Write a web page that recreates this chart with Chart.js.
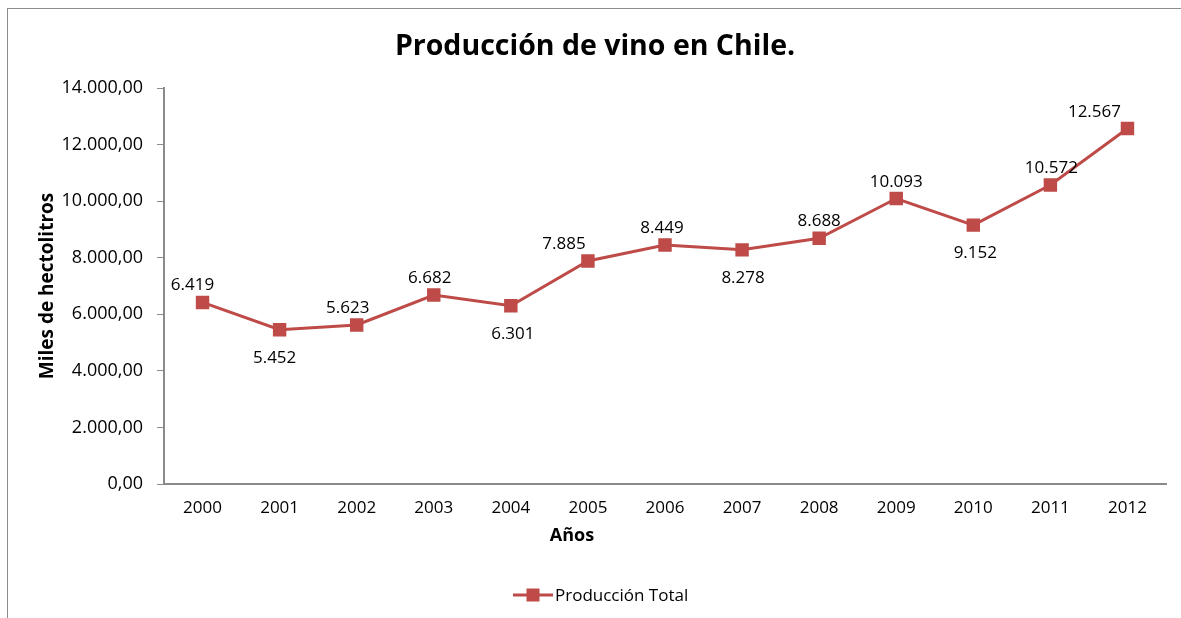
<!DOCTYPE html>
<html>
<head>
<meta charset="utf-8">
<script src="https://cdn.jsdelivr.net/npm/chart.js@4.4.1/dist/chart.umd.min.js"></script>
<style>
  html, body { margin:0; padding:0; background:#fff; overflow:hidden; }
  #wrap { position:relative; width:1181px; height:618px; }
</style>
</head>
<body>
<div id="wrap"><canvas id="vino" width="1181" height="618"></canvas></div>
<script>
const years   = ['2000','2001','2002','2003','2004','2005','2006','2007','2008','2009','2010','2011','2012'];
const produccion = [6419, 5452, 5623, 6682, 6301, 7885, 8449, 8278, 8688, 10093, 9152, 10572, 12567];
const yTicks  = [0, 2000, 4000, 6000, 8000, 10000, 12000, 14000];

// where each value label sits relative to its marker
const labelSide = ['up','down','up','up','down','up','up','down','up','up','down','up','up'];
const labelDx   = [-10, -5, -9, -4, 2, -24, -3, 1, 0, 0, 2, 1, -33];

const RED  = '#BE4B48';
const AXIS = '#8a8a8a';
const FONT = '"Open Sans", sans-serif';
const TITULO = 'Producción de vino en Chile.';
const EJE_X = 'Años';

// 12567 -> "12.567"
const miles = v => String(Math.round(v)).replace(/\B(?=(\d{3})+(?!\d))/g, '.');
const conDecimales = v => miles(v) + ',00';

const framePlugin = {
  id: 'frame',
  beforeDraw(chart) {
    const c = chart.ctx;
    c.save();
    c.strokeStyle = '#8c8c8c';
    c.lineWidth = 1;
    c.strokeRect(7.5, 8.5, 1300, 800);
    c.restore();
  }
};

// chart title and the x axis caption, placed a bit left of the plot centre
const textos = {
  id: 'textos',
  afterDraw(chart) {
    const c = chart.ctx;
    c.save();
    c.fillStyle = '#000';
    c.textAlign = 'center';
    c.textBaseline = 'middle';
    c.font = 'bold 28.5px ' + FONT;
    c.fillText(TITULO, 595, 47);
    c.font = 'bold 18px ' + FONT;
    c.fillText(EJE_X, 572, 536);
    c.restore();
  }
};

const valueLabels = {
  id: 'valueLabels',
  afterDatasetsDraw(chart) {
    const c = chart.ctx;
    const pts = chart.getDatasetMeta(0).data;
    c.save();
    c.font = '17px ' + FONT;
    c.fillStyle = '#000';
    c.textAlign = 'center';
    c.textBaseline = 'alphabetic';
    pts.forEach((p, i) => {
      const y = labelSide[i] === 'up' ? p.y - 12 : p.y + 33;
      c.fillText(miles(produccion[i]), p.x + labelDx[i], y);
    });
    c.restore();
  }
};

const legendLine = {
  id: 'legendLine',
  afterDraw(chart) {
    const c = chart.ctx;
    const cx = 533, cy = 595;
    c.save();
    c.strokeStyle = RED;
    c.lineWidth = 3;
    c.beginPath();
    c.moveTo(cx - 20, cy);
    c.lineTo(cx + 20, cy);
    c.stroke();
    c.fillStyle = RED;
    c.fillRect(cx - 6.5, cy - 6.5, 13, 13);
    c.font = '17px ' + FONT;
    c.fillStyle = '#000';
    c.textAlign = 'left';
    c.textBaseline = 'middle';
    c.fillText(chart.data.datasets[0].label, cx + 22, cy + 1);
    c.restore();
  }
};

new Chart(document.getElementById('vino'), {
  type: 'line',
  data: {
    labels: years,
    datasets: [{
      label: 'Producción Total',
      data: produccion,
      borderColor: RED,
      backgroundColor: RED,
      borderWidth: 3,
      pointStyle: 'rect',
      pointRadius: 9.5,
      pointHoverRadius: 9.5,
      pointBorderWidth: 0,
      tension: 0
    }]
  },
  options: {
    responsive: false,
    animation: false,
    devicePixelRatio: 1,
    layout: { padding: { left: 0, right: 15, top: 88, bottom: 0 } },
    plugins: {
      legend: { display: false },
      tooltip: { enabled: false },
      title: { display: false }
    },
    scales: {
      x: {
        offset: true,
        grid: { display: false, drawTicks: false },
        border: { color: AXIS, width: 2 },
        ticks: { color: '#000', font: { family: FONT, size: 17 }, padding: 14, maxRotation: 0 },
        afterFit(scale) { scale.height = 134; }
      },
      y: {
        min: 0, max: 14000,
        afterBuildTicks(scale) { scale.ticks = yTicks.map(v => ({ value: v })); },
        grid: { drawOnChartArea: false, tickLength: 7, color: AXIS },
        border: { color: AXIS, width: 2 },
        ticks: { color: '#000', font: { family: FONT, size: 18 }, padding: 14, callback: v => conDecimales(v) },
        title: {
          display: true, text: 'Miles de hectolitros', color: '#000',
          font: { family: FONT, size: 19, weight: 'bold' },
          padding: { top: 36, bottom: 0 }
        },
        afterFit(scale) { scale.width = 164; }
      }
    }
  },
  plugins: [framePlugin, textos, valueLabels, legendLine]
});
</script>
</body>
</html>
